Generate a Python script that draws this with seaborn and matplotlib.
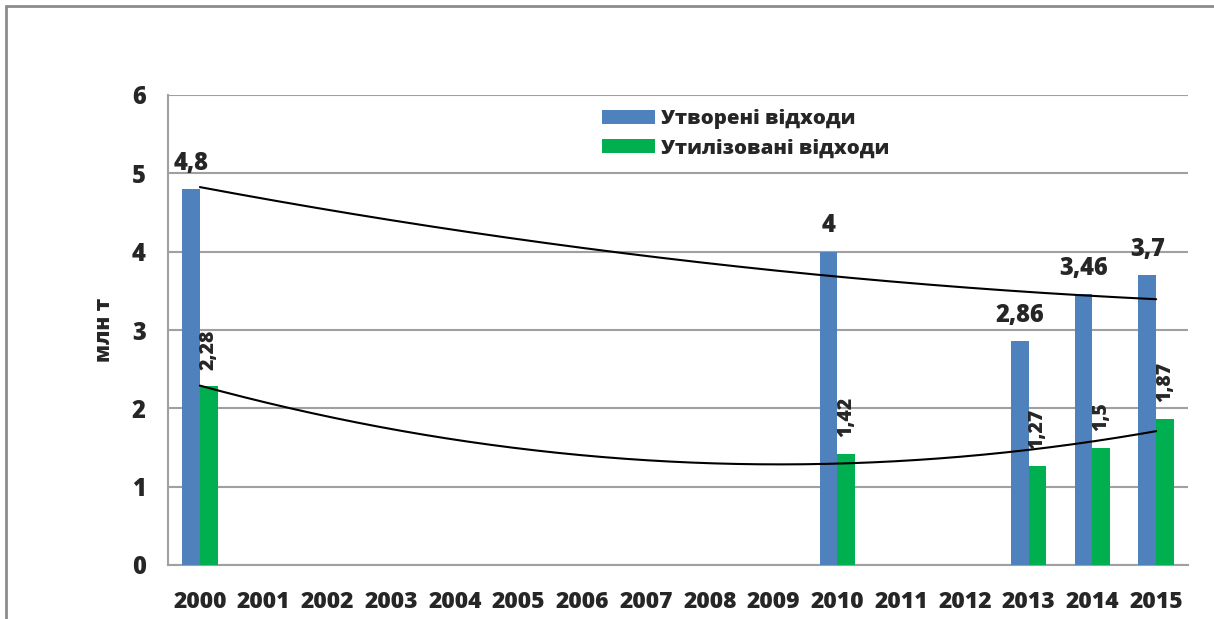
import numpy as np
import pandas as pd
import matplotlib
matplotlib.use("Agg")
import matplotlib.pyplot as plt
from matplotlib.lines import Line2D
from matplotlib.ticker import FixedLocator, NullFormatter
import seaborn as sns

# ---- data -------------------------------------------------------------
years = [str(y) for y in range(2000, 2016)]
generated = [4.8, None, None, None, None, None, None, None, None, None,
             4.0, None, None, 2.86, 3.46, 3.7]
utilized = [2.28, None, None, None, None, None, None, None, None, None,
            1.42, None, None, 1.27, 1.5, 1.87]
series_names = ["Утворені відходи", "Утилізовані відходи"]
colors = ["#4F81BD", "#00B050"]
y_label = "млн т"

sns.set_theme(style="white")
plt.rcParams["font.family"] = ["Open Sans", "DejaVu Sans"]
W = "heavy"
plt.rcParams["font.weight"] = W

df = pd.DataFrame({
    "year": years * 2,
    "value": [np.nan if v is None else v for v in generated + utilized],
    "series": [series_names[0]] * len(years) + [series_names[1]] * len(years),
})

fig = plt.figure(figsize=(12.14, 6.19), dpi=100)
ax = fig.add_axes([168 / 1214, 1 - 565 / 619, (1188 - 168) / 1214, (565 - 95) / 619])

sns.barplot(data=df, x="year", y="value", hue="series", order=years,
            hue_order=series_names, palette=colors, saturation=1,
            width=0.56, gap=0, errorbar=None, linewidth=0, ax=ax, zorder=3)

grey = "#A0A0A0"
ax.set_xlim(-0.5, len(years) - 0.5)
ax.set_ylim(0, 6)
ax.set_yticks(range(0, 7))
ax.set_yticklabels([str(v) for v in range(0, 7)], fontsize=17, fontweight=W)
ax.set_xticks(range(len(years)))
ax.set_xticklabels(years, fontsize=16.5, fontweight=W)
ax.xaxis.set_minor_locator(FixedLocator(np.arange(-0.5, len(years), 1.0)))
ax.xaxis.set_minor_formatter(NullFormatter())
ax.tick_params(axis="x", which="major", length=0, pad=18)
ax.tick_params(axis="x", which="minor", length=6, width=1.5, color=grey, direction="out")
ax.tick_params(axis="y", which="major", length=6, width=1.5, color=grey, direction="out", pad=10)
ax.yaxis.grid(True, color=grey, linewidth=1.5, zorder=0)
ax.set_axisbelow(True)
for side in ["top", "right"]:
    ax.spines[side].set_visible(False)
for side in ["left", "bottom"]:
    ax.spines[side].set_color(grey)
    ax.spines[side].set_linewidth(1.5)
ax.set_xlabel("")
ax.set_ylabel(y_label, fontsize=15, fontweight=W, labelpad=12)

# ---- polynomial (order 2) trend lines ---------------------------------
pos = np.arange(len(years))
grid = np.linspace(0, len(years) - 1, 300)
for vals in (generated, utilized):
    xs = np.array([p for p, v in zip(pos, vals) if v is not None], dtype=float)
    ys = np.array([v for v in vals if v is not None], dtype=float)
    coef = np.polyfit(xs, ys, 2)
    ax.plot(grid, np.polyval(coef, grid), color="black", linewidth=1.5, zorder=4)

# ---- value labels -----------------------------------------------------
half = 0.14
for p, v in zip(pos, generated):
    if v is None:
        continue
    ax.annotate(f"{v:g}".replace(".", ","), (p - half, v), xytext=(0, 14),
                textcoords="offset points", ha="center", va="baseline",
                fontsize=17, fontweight=W, zorder=5)
for p, v in zip(pos, utilized):
    if v is None:
        continue
    ax.annotate(f"{v:g}".replace(".", ","), (p + half, v), xytext=(0, 12),
                textcoords="offset points", ha="center", va="bottom",
                rotation=90, fontsize=14, fontweight=W, zorder=5)

# ---- legend -------------------------------------------------------------
handles, labels = ax.get_legend_handles_labels()
leg = ax.legend(handles, labels, loc="upper left",
                bbox_to_anchor=(598 / 1214, 1 - 105 / 619),
                bbox_transform=fig.transFigure, frameon=True, framealpha=1,
                edgecolor="white", facecolor="white", fancybox=False,
                prop={"size": 14.7, "weight": W}, handlelength=2.6,
                handleheight=0.7, handletextpad=0.3, labelspacing=0.45,
                borderpad=0.2, borderaxespad=0)
leg.set_zorder(6)

# ---- outer frame ----------------------------------------------------------
fx, fy = 6 / 1214, 1 - 6 / 619
fig.add_artist(Line2D([fx, fx], [0, fy], color="#8C8C8C", linewidth=2,
                      transform=fig.transFigure))
fig.add_artist(Line2D([fx, 1], [fy, fy], color="#8C8C8C", linewidth=2,
                      transform=fig.transFigure))

fig.savefig("out.png", dpi=100, facecolor="white")
